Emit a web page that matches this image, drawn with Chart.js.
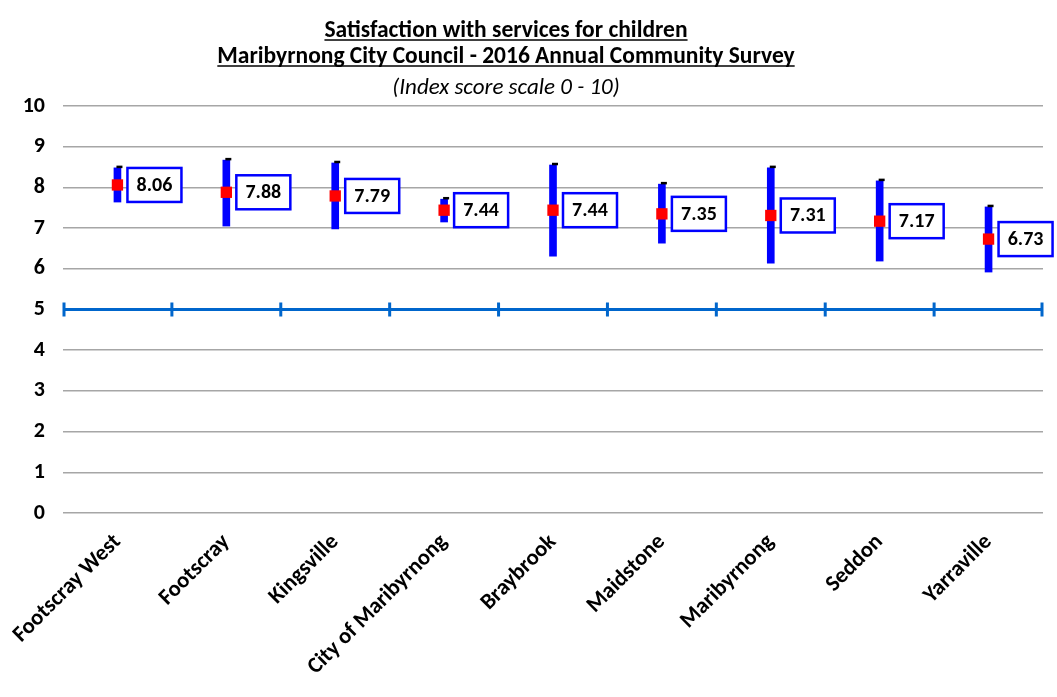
<!DOCTYPE html>
<html>
<head>
<meta charset="utf-8">
<script src="https://cdn.jsdelivr.net/npm/chart.js@4.4.1/dist/chart.umd.min.js"></script>
<style>
  body { margin: 0; background: #fff; }
  #wrap { width: 1057px; height: 697px; position: relative; }
</style>
</head>
<body>
<div id="wrap"><canvas id="chart"></canvas></div>
<script>
// Survey data
const areas = ['Footscray West', 'Footscray', 'Kingsville', 'City of Maribyrnong', 'Braybrook',
  'Maidstone', 'Maribyrnong', 'Seddon', 'Yarraville'];
const scores = [8.06, 7.88, 7.79, 7.44, 7.44, 7.35, 7.31, 7.17, 6.73];
const lowerBound = [7.64, 7.05, 6.98, 7.15, 6.31, 6.63, 6.14, 6.19, 5.92];
const upperBound = [8.48, 8.67, 8.60, 7.71, 8.55, 8.08, 8.48, 8.16, 7.52];
const benchmark = 5;
const yTicks = [0, 1, 2, 3, 4, 5, 6, 7, 8, 9, 10];

const titleLines = ['Satisfaction with services for children',
  'Maribyrnong City Council - 2016 Annual Community Survey'];
const subTitle = '(Index score scale 0 - 10)';

const FONT = "'Carlito', 'Liberation Sans Narrow', 'Liberation Sans', sans-serif";

const surveyPlugin = {
  id: 'survey',
  beforeDatasetsDraw(chart) {
    const ctx = chart.ctx, x = chart.scales.x, y = chart.scales.y;
    const area = chart.chartArea;
    const yb = y.getPixelForValue(benchmark);
    ctx.save();
    ctx.strokeStyle = '#0066CC';
    ctx.lineWidth = 3;
    ctx.beginPath();
    ctx.moveTo(area.left, yb);
    ctx.lineTo(area.right, yb);
    // tick marks at category boundaries
    for (let i = 0; i <= areas.length; i++) {
      let bx;
      if (i === 0) bx = area.left + 1;
      else if (i === areas.length) bx = area.right - 1;
      else bx = (x.getPixelForValue(i - 1) + x.getPixelForValue(i)) / 2;
      ctx.moveTo(bx, yb - 7);
      ctx.lineTo(bx, yb + 7);
    }
    ctx.stroke();
    ctx.restore();
  },
  afterDatasetsDraw(chart) {
    const ctx = chart.ctx, x = chart.scales.x, y = chart.scales.y;
    ctx.save();
    // caps on top of the bars
    ctx.strokeStyle = '#000';
    ctx.lineWidth = 2.5;
    upperBound.forEach((v, i) => {
      const px = x.getPixelForValue(i), py = y.getPixelForValue(v);
      ctx.beginPath();
      ctx.moveTo(px - 1, py - 1);
      ctx.lineTo(px + 5, py - 1);
      ctx.stroke();
    });
    // value boxes
    ctx.font = 'bold 20px ' + FONT;
    ctx.textAlign = 'center';
    ctx.textBaseline = 'middle';
    scores.forEach((v, i) => {
      const px = x.getPixelForValue(i), py = y.getPixelForValue(v);
      const bx = px + 10, bw = 54, bh = 34;
      ctx.fillStyle = '#fff';
      ctx.fillRect(bx, py - bh / 2, bw, bh);
      ctx.strokeStyle = '#0000FF';
      ctx.lineWidth = 2.5;
      ctx.strokeRect(bx, py - bh / 2, bw, bh);
      ctx.fillStyle = '#000';
      ctx.fillText(v.toFixed(2), bx + bw / 2, py + 1);
    });
    ctx.restore();
  },
  afterDraw(chart) {
    const ctx = chart.ctx;
    const cx = 506;
    ctx.save();
    ctx.fillStyle = '#000';
    ctx.strokeStyle = '#000';
    ctx.textAlign = 'center';
    ctx.textBaseline = 'alphabetic';
    ctx.font = 'bold 23.5px ' + FONT;
    [37, 63].forEach((ty, i) => {
      ctx.fillText(titleLines[i], cx, ty);
      const w = ctx.measureText(titleLines[i]).width;
      ctx.lineWidth = 1.5;
      ctx.beginPath();
      ctx.moveTo(cx - w / 2, ty + 3);
      ctx.lineTo(cx + w / 2, ty + 3);
      ctx.stroke();
    });
    ctx.font = 'italic 23px ' + FONT;
    ctx.fillText(subTitle, cx, 94);
    ctx.restore();
  }
};

new Chart(document.getElementById('chart'), {
  type: 'bar',
  data: {
    labels: areas,
    datasets: [{
      type: 'line',
      label: 'Index score',
      data: scores,
      showLine: false,
      pointStyle: 'rect',
      pointRadius: 8,
      pointBorderWidth: 0,
      pointBackgroundColor: '#FF0000',
      order: 0
    }, {
      label: 'Range',
      data: lowerBound.map((l, i) => [l, upperBound[i]]),
      backgroundColor: '#0000FF',
      barThickness: 7,
      order: 1
    }]
  },
  options: {
    responsive: true,
    maintainAspectRatio: false,
    animation: false,
    layout: { padding: { top: 106, right: 14, left: 0, bottom: 0 } },
    plugins: {
      legend: { display: false },
      tooltip: { enabled: false }
    },
    scales: {
      x: {
        afterFit(scale) { scale.height = 184; },
        grid: { display: false },
        border: { display: false },
        ticks: {
          color: '#000',
          font: { family: FONT, size: 22.5, weight: 'bold' },
          maxRotation: 45,
          minRotation: 45,
          padding: 8
        }
      },
      y: {
        min: 0,
        max: 10,
        afterBuildTicks(scale) { scale.ticks = yTicks.map(v => ({ value: v })); },
        afterFit(scale) { scale.width = 63; },
        grid: { color: '#A6A6A6', lineWidth: 1.5, drawTicks: false },
        border: { display: false },
        ticks: {
          color: '#000',
          font: { family: FONT, size: 22, weight: 'bold' },
          padding: 18
        }
      }
    }
  },
  plugins: [surveyPlugin]
});
</script>
</body>
</html>
